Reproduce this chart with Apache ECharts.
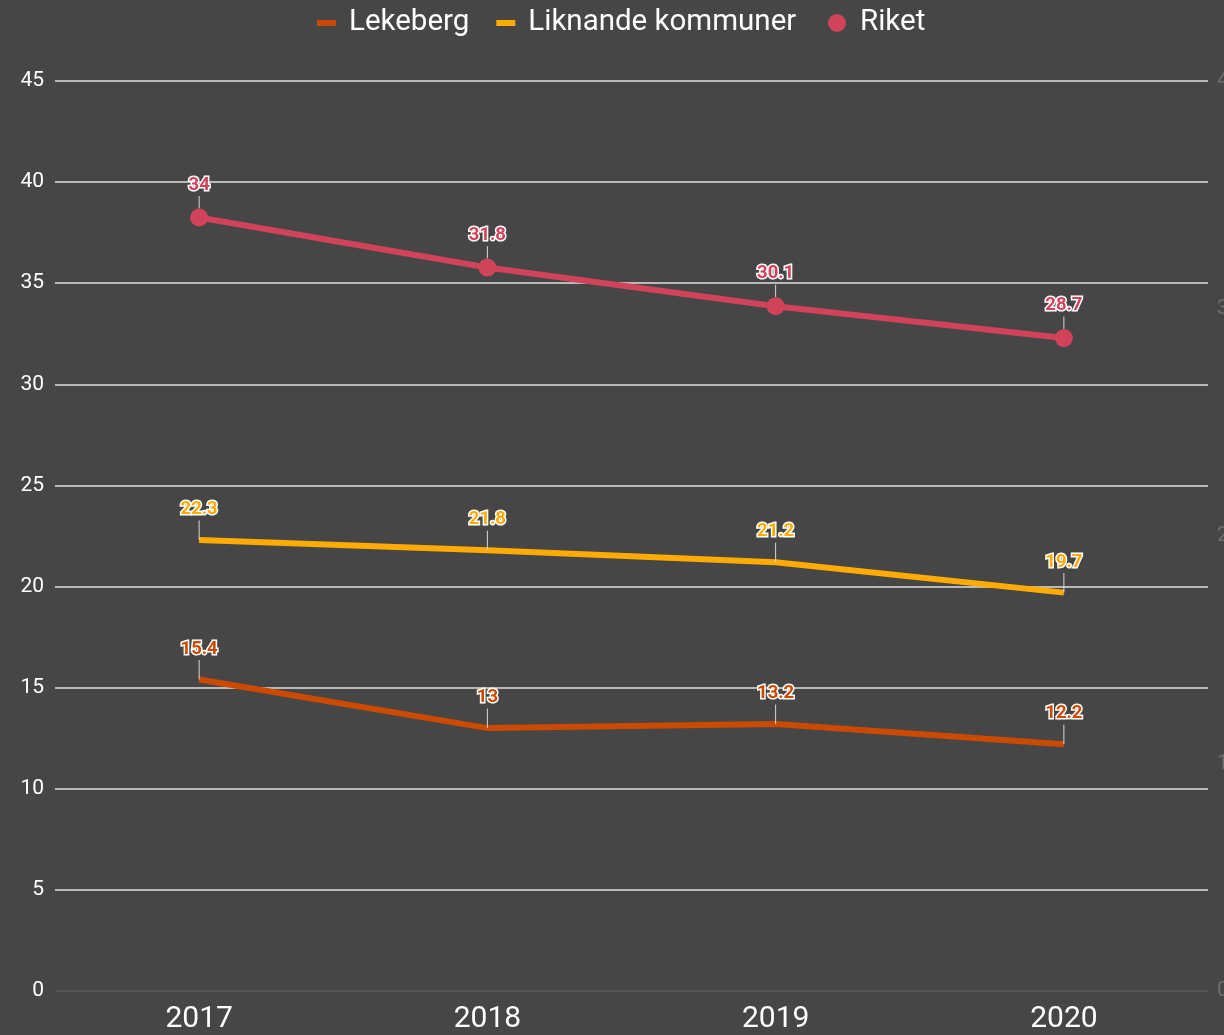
<!DOCTYPE html>
<html>
<head>
<meta charset="utf-8">
<script src="https://cdn.jsdelivr.net/npm/echarts@6/dist/echarts.min.js"></script>
<style>
html,body{margin:0;padding:0;background:#464646;}
#chart{width:1224px;height:1035px;}
</style>
</head>
<body>
<div id="chart"></div>
<script>
const categories = ['2017', '2018', '2019', '2020'];
const lekeberg = [15.4, 13, 13.2, 12.2];
const liknande = [22.3, 21.8, 21.2, 19.7];
const riket = [34, 31.8, 30.1, 28.7];
const leftTicks = {min: 0, max: 45, interval: 5};
const rightTicks = {min: 0, max: 40, interval: 10};

const colors = {lek: '#cc4a00', lik: '#ffab00', rik: '#d1435b'};

function lbl(color) {
  return {
    show: true,
    position: 'top',
    distance: 4,
    color: color,
    fontFamily: 'Roboto',
    fontWeight: 'bold',
    fontSize: 18.5,
    textBorderColor: '#ffffff',
    textBorderWidth: 3
  };
}
const labelLine = {show: true, lineStyle: {color: '#d8d8d8', width: 1}};

const chart = echarts.init(document.getElementById('chart'));
chart.setOption({
  backgroundColor: '#464646',
  animation: false,
  legend: [{
    data: ['Lekeberg', 'Liknande kommuner'],
    left: 312, top: 3,
    icon: 'rect',
    itemWidth: 19, itemHeight: 6,
    itemGap: 27,
    textStyle: {color: '#ffffff', fontSize: 29.5, fontFamily: 'Roboto', padding: [0, 0, 0, 8]}
  }, {
    data: ['Riket'],
    left: 823, top: 3,
    icon: 'circle',
    itemWidth: 18, itemHeight: 18,
    textStyle: {color: '#ffffff', fontSize: 29.5, fontFamily: 'Roboto', padding: [0, 0, 0, 9]}
  }],
  grid: {left: 55, right: 16, top: 81, bottom: 44, containLabel: false, outerBoundsMode: 'none'},
  xAxis: {
    type: 'category',
    data: categories,
    boundaryGap: true,
    axisLine: {show: true, lineStyle: {color: '#333333', width: 1.5}},
    axisTick: {show: false},
    axisLabel: {color: '#ffffff', fontSize: 30, fontFamily: 'Roboto', margin: 13}
  },
  yAxis: [{
    type: 'value',
    min: leftTicks.min, max: leftTicks.max, interval: leftTicks.interval,
    axisLine: {show: false}, axisTick: {show: false},
    axisLabel: {color: '#ffffff', fontSize: 21, fontFamily: 'Roboto', margin: 11},
    splitLine: {show: true, lineStyle: {color: '#e0e0e0', width: 1.5}}
  }, {
    type: 'value',
    position: 'right',
    min: rightTicks.min, max: rightTicks.max, interval: rightTicks.interval,
    axisLine: {show: false}, axisTick: {show: false},
    axisLabel: {color: '#6e6e6e', fontSize: 21, fontFamily: 'Roboto', margin: 9},
    splitLine: {show: false}
  }],
  series: [{
    name: 'Lekeberg', type: 'line', data: lekeberg, yAxisIndex: 0,
    color: colors.lek, symbol: 'circle', symbolSize: 0.1, showSymbol: true,
    itemStyle: {color: colors.lek},
    lineStyle: {width: 6, color: colors.lek},
    label: lbl(colors.lek), labelLine: labelLine, labelLayout: {dy: -17}
  }, {
    name: 'Liknande kommuner', type: 'line', data: liknande, yAxisIndex: 0,
    color: colors.lik, symbol: 'circle', symbolSize: 0.1, showSymbol: true,
    itemStyle: {color: colors.lik},
    lineStyle: {width: 6, color: colors.lik},
    label: lbl(colors.lik), labelLine: labelLine, labelLayout: {dy: -17}
  }, {
    name: 'Riket', type: 'line', data: riket, yAxisIndex: 1,
    color: colors.rik, symbol: 'circle', symbolSize: 18, showSymbol: true,
    itemStyle: {color: colors.rik},
    lineStyle: {width: 6, color: colors.rik},
    label: lbl(colors.rik), labelLine: labelLine, labelLayout: {dy: -10}
  }]
});
</script>
</body>
</html>
